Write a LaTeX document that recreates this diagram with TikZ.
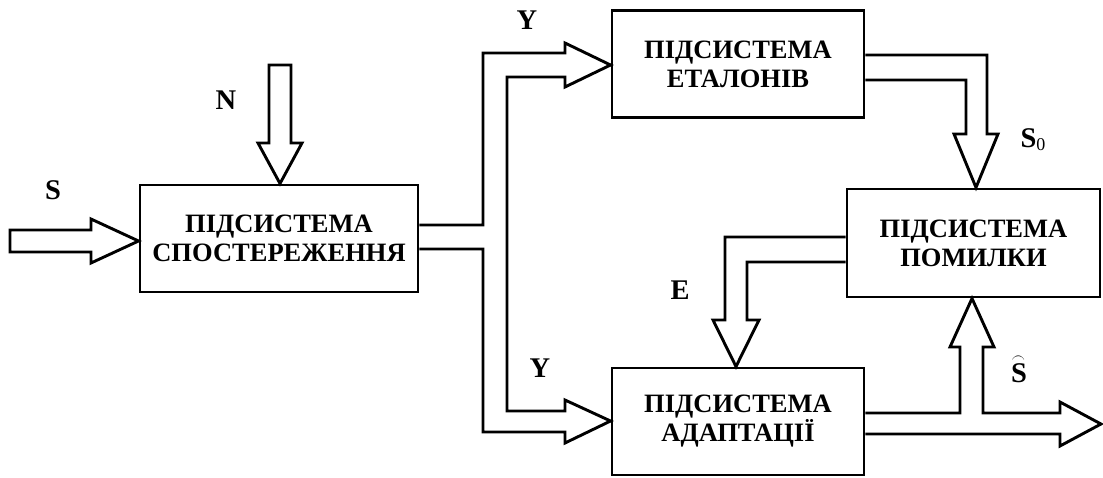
\documentclass[tikz,border=0pt]{standalone}
\usepackage{fontspec}
\setmainfont{Liberation Serif}
\begin{document}
\begin{tikzpicture}[x=1pt,y=-1pt,
  box/.style={draw,line width=2.9pt,inner sep=0pt,align=center,
    font=\fontsize{26.5}{29}\selectfont\bfseries},
  barrow/.style={draw,line width=2.9pt,line join=miter},
  lbl/.style={font=\fontsize{28.5}{30}\selectfont\bfseries,inner sep=0pt}]
\useasboundingbox (0,0) rectangle (1103,477);
\node[box,minimum width=278pt,minimum height=107pt] (b1) at (279,238.5) {ПІДСИСТЕМА\\СПОСТЕРЕЖЕННЯ};
\node[box,minimum width=252pt,minimum height=107pt] (b2) at (738,64) {ПІДСИСТЕМА\\ЕТАЛОНІВ};
\node[box,minimum width=253pt,minimum height=108pt] (b3) at (973.5,243) {ПІДСИСТЕМА\\ПОМИЛКИ};
\node[box,minimum width=252pt,minimum height=107pt] (b4) at (738,421.5) {ПІДСИСТЕМА\\АДАПТАЦІЇ};
% S input
\draw[barrow] (b1.west|-0,241) -- (91,219) -- (91,230) -- (10,230) -- (10,252) -- (91,252) -- (91,263) -- cycle;
% N input
\draw[barrow] (b1.north-|280,0) -- (258,143) -- (269,143) -- (269,65) -- (291,65) -- (291,143) -- (302,143) -- cycle;
% Y fork
\draw[barrow] (b1.east|-0,225) -- (483,225) -- (483,53) -- (565,53) -- (565,43) -- (b2.west|-0,65) -- (565,87) -- (565,77) -- (507,77) -- (507,411) -- (565,411) -- (565,400) -- (b4.west|-0,421) -- (565,443) -- (565,432) -- (483,432) -- (483,249) -- (b1.east|-0,249);
% S0
\draw[barrow] (b2.east|-0,55) -- (987,55) -- (987,134) -- (998,134) -- (b3.north-|976,0) -- (954,134) -- (966,134) -- (966,80) -- (b2.east|-0,80);
% E
\draw[barrow] (b3.west|-0,237) -- (725,237) -- (725,320) -- (713,320) -- (b4.north-|736,0) -- (759,320) -- (747,320) -- (747,262) -- (b3.west|-0,262);
% S hat output
\coordinate (out) at (1101,424);
\draw[barrow] (b4.east|-0,413) -- (960,413) -- (960,347) -- (950,347) -- (b3.south-|972,0) -- (994,347) -- (983,347) -- (983,413) -- (1060,413) -- (1060,402) -- (out) -- (1060,446) -- (1060,434) -- (b4.east|-0,434);
% labels
\node[lbl] (lS) at (53,190) {S};
\node[lbl] (lN) at (226,100) {N};
\node[lbl] (lY1) at (527,20) {Y};
\node[lbl] (lY2) at (540,368) {Y};
\node[lbl] (lE) at (680,290) {E};
\node[lbl] (lS0) at (1033,140) {S\raisebox{-0.25ex}{\fontsize{18}{20}\selectfont\mdseries 0}};
\node[lbl] (lSh) at (1019,373) {\makebox[0pt][l]{\hspace{0.02em}\raisebox{0.68em}[0pt][0pt]{\scalebox{0.55}[0.7]{$\frown$}}}S};
\end{tikzpicture}
\end{document}
